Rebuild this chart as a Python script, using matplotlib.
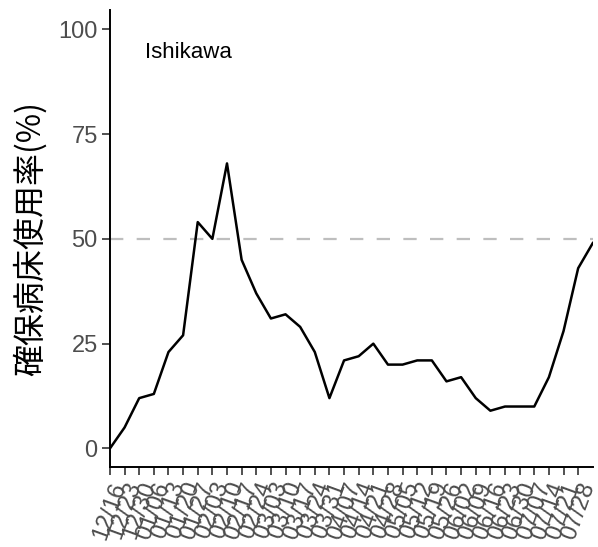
import numpy as np
import matplotlib
matplotlib.use('Agg')
import matplotlib.pyplot as plt

plt.rcParams['font.family'] = ['Liberation Sans', 'Noto Sans CJK JP']

# weekly tick labels (12/16 .. 07/28)
dates = ['12/16', '12/23', '12/30', '01/06', '01/13', '01/20', '01/27',
         '02/03', '02/10', '02/17', '02/24', '03/03', '03/10', '03/17',
         '03/24', '03/31', '04/07', '04/14', '04/21', '04/28', '05/05',
         '05/12', '05/19', '05/26', '06/02', '06/09', '06/16', '06/23',
         '06/30', '07/07', '07/14', '07/21', '07/28']

# bed occupancy rate (%), one value per week
usage = [0, 5, 12, 13, 23, 27, 54, 50, 68, 45, 37, 31, 32, 29, 23, 12, 21,
         22, 25, 20, 20, 21, 21, 16, 17, 12, 9, 10, 10, 10, 17, 28, 43, 49]

prefecture = 'Ishikawa'
threshold = 50

fig = plt.figure(figsize=(5.98, 5.47), dpi=100)
W, H = 598, 547
ax = fig.add_axes([109.5 / W, (H - 467.3) / H, (592.8 - 109.5) / W, (467.3 - 10) / H])

x = np.arange(len(usage))
ax.axhline(threshold, color='#bebebe', linewidth=1.6, linestyle=(0, (6, 6)), zorder=1)
ax.plot(x, usage, color='black', linewidth=1.8, zorder=2)

ax.set_xlim(-0.03, len(usage) - 1)
ax.set_ylim(-4.5, 104.6)

ax.set_yticks([0, 25, 50, 75, 100])
ax.set_xticks(np.arange(len(dates)))
ax.set_xticklabels(dates, rotation=70, ha='right', va='top', rotation_mode='anchor')

ax.tick_params(axis='both', colors='#333333', labelcolor='#4d4d4d', labelsize=17,
               length=5.5, width=1.2, direction='out')
ax.tick_params(axis='x', pad=3)
ax.tick_params(axis='y', pad=3)

for side in ['top', 'right']:
    ax.spines[side].set_visible(False)
for side in ['left', 'bottom']:
    ax.spines[side].set_linewidth(1.4)
    ax.spines[side].set_color('black')

ax.set_ylabel('確保病床使用率(%)', fontsize=23, family=['Noto Sans CJK JP'], labelpad=8)
fig.text(145 / W, 1 - 52 / H, prefecture, fontsize=16, color='black', va='center')

fig.savefig('out.png', dpi=100)
